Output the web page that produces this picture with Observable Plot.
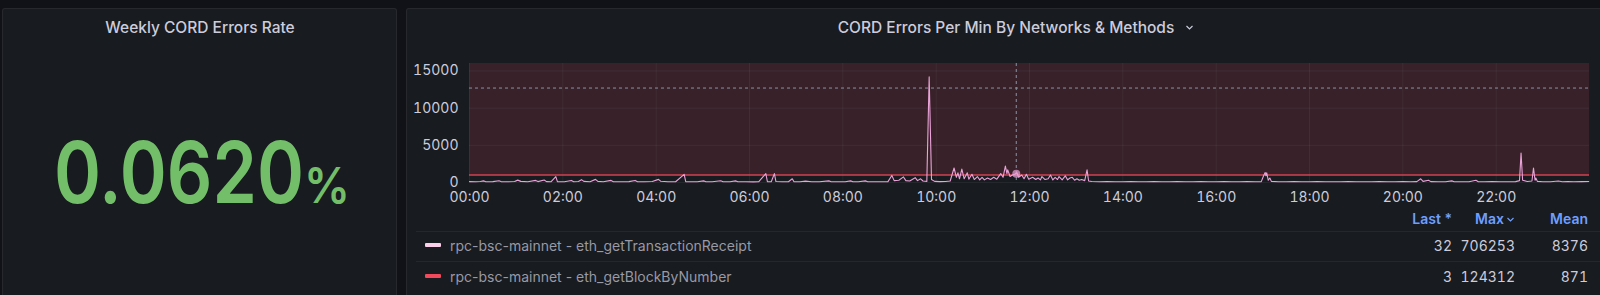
<!DOCTYPE html>
<html><head><meta charset="utf-8">
<script src="https://cdn.jsdelivr.net/npm/d3@7"></script>
<script src="https://cdn.jsdelivr.net/npm/@observablehq/plot@0.6"></script>
<style>
html,body{margin:0;padding:0;background:#111217;width:1600px;height:295px;overflow:hidden;font-family:Inter,"Noto Sans",sans-serif;}
.panel{position:absolute;background:#181b1f;border:1px solid rgba(204,204,220,0.08);border-radius:3px;box-sizing:border-box;}
.abs{position:absolute;white-space:nowrap;}
.title{font-size:15.5px;font-weight:500;color:#ccccdc;transform:translate(-50%,-50%);}
.hdr{font-size:14px;font-weight:600;color:#6e9fff;transform:translate(-100%,-50%);}
.val{font-size:14px;color:#ccccdc;transform:translate(-100%,-50%);font-variant-numeric:tabular-nums;}
.name{font-size:14px;color:rgba(204,204,220,0.72);transform:translate(0,-50%);}
.sep{position:absolute;height:1px;background:rgba(204,204,220,0.07);}
.sw{position:absolute;width:16px;height:4px;border-radius:1px;}
</style>
</head><body>
<div class="panel" style="left:2px;top:8px;width:395px;height:300px;"></div>
<div class="panel" style="left:406px;top:8px;width:1196px;height:300px;"></div>
<div id="root"></div>
<script>
// ---- data ----
const statTitle = "Weekly CORD Errors Rate";
const statValue = "0.0620";
const statUnit = "%";
const chartTitle = "CORD Errors Per Min By Networks & Methods";

const minutes = [0,8,14,18,21,30,38,41,50,58,62,66,75,85,88,96,99,105,111,113,122,131,134,140,144,147,155,162,165,172,182,185,195,205,213,216,225,235,243,246,255,265,276,278,285,293,301,304,312,323,326,335,342,345,355,365,372,381,383,388,392,394,402,410,415,417,425,432,440,450,462,465,475,483,490,493,500,509,512,520,530,538,543,546,552,558,561,566,573,576,580,583,588,591,594,598,605,612,618,623,626,628,630,633,636,640,642,646,649,653,656,659,662,666,670,674,678,683,686,689,691,692,695,698,701,704,706,710,713,716,719,724,728,731,734,736,740,744,747,750,753,756,758,762,766,769,772,775,778,781,784,787,791,794,796,800,810,820,830,840,850,860,870,880,890,900,910,920,930,940,950,960,970,980,990,1000,1010,1018,1021,1023,1024,1025,1027,1029,1031,1040,1050,1060,1070,1080,1090,1100,1110,1120,1130,1140,1150,1160,1170,1180,1190,1200,1210,1218,1223,1226,1233,1236,1245,1255,1263,1266,1275,1285,1294,1297,1305,1315,1325,1335,1345,1350,1352,1354,1360,1366,1368,1370,1371,1373,1380,1390,1400,1405,1412,1420,1430,1439];
const errorsPerMin = [120,100,130,220,110,120,230,110,100,140,320,150,110,280,120,330,120,110,800,120,100,280,110,130,380,150,110,420,150,110,280,110,100,120,280,110,100,130,420,160,110,100,1100,120,110,100,220,100,110,230,100,110,220,110,100,90,110,1200,120,110,1200,130,110,100,500,120,110,180,100,110,220,100,110,100,220,100,110,220,110,100,110,120,950,250,300,750,250,200,650,250,500,200,150,14200,400,150,120,130,200,1950,700,1300,500,1800,500,1300,450,1100,400,800,350,700,350,600,400,700,450,1200,700,2200,1200,1700,800,1000,1100,1300,700,1000,500,1100,450,700,400,600,350,800,400,500,1000,350,700,400,800,350,900,350,600,700,300,500,300,400,250,1700,200,130,110,120,100,110,130,100,110,120,100,110,130,100,110,120,100,110,120,100,110,130,100,120,900,1350,900,1300,300,600,150,110,100,120,110,100,120,110,100,110,120,100,110,100,120,110,100,120,110,120,500,150,300,120,110,100,220,110,100,110,300,110,100,120,110,100,120,250,3950,300,130,200,1950,300,600,150,110,100,200,110,130,110,120,130];

const yTicks = [0, 5000, 10000, 15000];
const xTickMinutes = [0,120,240,360,480,600,720,840,960,1080,1200,1320];
const xTickLabels = ["00:00","02:00","04:00","06:00","08:00","10:00","12:00","14:00","16:00","18:00","20:00","22:00"];
const xMax = 1440, yMax = 16000;
const threshold = 1000;
const cursorMinute = 703, cursorValue = 12700, cursorPointValue = 1180;

const legendNames = ["rpc-bsc-mainnet - eth_getTransactionReceipt", "rpc-bsc-mainnet - eth_getBlockByNumber"];
const legendColors = ["#fbcfe9", "#f2495c"];
const legendLast = [32, 3];
const legendMax = [706253, 124312];
const legendMean = [8376, 871];
const legendHeaders = ["Last *", "Max", "Mean"];

// ---- layout ----
const root = document.getElementById("root");
function add(html){ root.insertAdjacentHTML("beforeend", html); }

add(`<div class="abs title" style="left:200px;top:27px;">${statTitle}</div>`);
add(`<svg id="stat" class="abs" style="left:0;top:0;" width="400" height="295">
  <text id="sv" x="0" y="203" font-family="Inter" font-weight="600" font-size="85" fill="#73bf69">${statValue}</text>
  <text id="su" x="0" y="203" font-family="Inter" font-weight="600" font-size="50" fill="#73bf69">${statUnit}</text>
</svg>`);
function fitText(id, x0, w){
  const t = document.getElementById(id);
  const bb = t.getBBox();
  const sx = w / bb.width;
  t.setAttribute("transform", `translate(${x0},0) scale(${sx},1) translate(${-bb.x},0)`);
}
fitText("sv", 54, 250);
fitText("su", 304, 46);

add(`<div class="abs title" style="left:1006px;top:27px;">${chartTitle}</div>`);
add(`<svg class="abs" style="left:1185px;top:24px;" width="10" height="8"><polyline points="1.5,2 4.5,5 7.5,2" fill="none" stroke="#ccccdc" stroke-width="1.2"/></svg>`);

const data = minutes.map((m, i) => ({m, v: errorsPerMin[i]}));
const fmt = d => xTickLabels[xTickMinutes.indexOf(d)];

const chart = Plot.plot({
  width: 1194, height: 155,
  marginLeft: 63, marginRight: 11, marginTop: 13, marginBottom: 23,
  style: {background: "transparent", color: "#ccccdc", fontFamily: "Inter, sans-serif", fontSize: "14px", overflow: "visible"},
  x: {domain: [0, xMax], label: null},
  y: {domain: [0, yMax], label: null},
  marks: [
    Plot.rect([{x1: 0, x2: xMax, y1: threshold, y2: yMax}], {x1: "x1", x2: "x2", y1: "y1", y2: "y2", fill: "#f2495c", fillOpacity: 0.15}),
    Plot.gridX(xTickMinutes, {stroke: "#ccccdc", strokeOpacity: 0.07}),
    Plot.gridY(yTicks, {stroke: "#ccccdc", strokeOpacity: 0.07}),
    Plot.ruleY([threshold], {stroke: "#f2495c", strokeWidth: 1.5, strokeOpacity: 0.85}),
    Plot.ruleY([cursorValue], {stroke: "#8793a3", strokeDasharray: "3,3"}),
    Plot.ruleX([cursorMinute], {stroke: "#8793a3", strokeDasharray: "3,3"}),
    Plot.line(data, {x: "m", y: "v", stroke: "#e9a3d8", strokeWidth: 1.1}),
    Plot.dot([{m: cursorMinute, v: cursorPointValue}], {x: "m", y: "v", r: 4, fill: "#e9a3d8", fillOpacity: 0.7}),
    Plot.axisX(xTickMinutes, {tickSize: 0, tickPadding: 10, tickFormat: fmt, fill: "#ccccdc"}),
    Plot.axisY(yTicks, {tickSize: 0, tickPadding: 11, tickFormat: d => String(d), fill: "#ccccdc"})
  ]
});
chart.style.position = "absolute";
chart.style.left = "406px";
chart.style.top = "50px";
root.appendChild(chart);

// legend
const hdrRight = [1452, 1516, 1588];
add(`<div class="abs hdr" style="left:${hdrRight[0]}px;top:218px;">${legendHeaders[0]}</div>`);
add(`<div class="abs hdr" style="left:${hdrRight[1] - 12}px;top:218px;">${legendHeaders[1]}</div>`);
add(`<svg class="abs" style="left:${hdrRight[1] - 10}px;top:216px;" width="10" height="8"><polyline points="1.5,2 4.5,5 7.5,2" fill="none" stroke="#6e9fff" stroke-width="1.2"/></svg>`);
add(`<div class="abs hdr" style="left:${hdrRight[2]}px;top:218px;">${legendHeaders[2]}</div>`);
add(`<div class="sep" style="left:416px;top:231px;width:1184px;"></div>`);
add(`<div class="sep" style="left:416px;top:261px;width:1184px;"></div>`);
const rowY = [245, 276];
legendNames.forEach((n, i) => {
  add(`<div class="sw" style="left:425px;top:${rowY[i] - 2}px;background:${legendColors[i]};"></div>`);
  add(`<div class="abs name" style="left:450px;top:${rowY[i]}px;">${n}</div>`);
  add(`<div class="abs val" style="left:${hdrRight[0]}px;top:${rowY[i]}px;">${legendLast[i]}</div>`);
  add(`<div class="abs val" style="left:${hdrRight[1] - 1}px;top:${rowY[i]}px;">${legendMax[i]}</div>`);
  add(`<div class="abs val" style="left:${hdrRight[2]}px;top:${rowY[i]}px;">${legendMean[i]}</div>`);
});
</script>
</body></html>
